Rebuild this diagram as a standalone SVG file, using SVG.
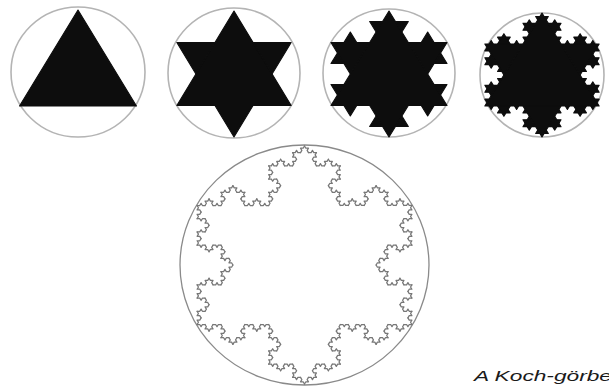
<svg xmlns="http://www.w3.org/2000/svg" xmlns:xlink="http://www.w3.org/1999/xlink" width="609" height="387" viewBox="0 0 609 387">
<style>
 .ring{fill:none;stroke:#b4b4b4;stroke-width:1.6}
 .bigring{fill:none;stroke:#8a8a8a;stroke-width:1.3}
 .solid{fill:#0d0d0d;stroke:#0d0d0d;stroke-width:1.1;stroke-linejoin:round;vector-effect:non-scaling-stroke}
 .curve{fill:none;stroke:#777777;stroke-width:1.25;stroke-linejoin:round;stroke-linecap:round;vector-effect:non-scaling-stroke}
 .caption{font-family:"Liberation Sans",Arial,sans-serif;font-style:italic;font-size:15px;fill:#1a1a1a}
</style>
<defs>
 <polygon id="t" class="solid" points="0.333333,0 0.5,-0.288675 0.666667,0"/>
 <polygon id="tri" class="solid" points="0,-1 0.866025,0.5 -0.866025,0.5"/>
 <g id="f2">
  <use href="#t"/>
  <use href="#t" transform="scale(0.333333)"/>
  <use href="#t" transform="translate(0.333333,0) rotate(-60) scale(0.333333)"/>
  <use href="#t" transform="translate(0.5,-0.288675) rotate(60) scale(0.333333)"/>
  <use href="#t" transform="translate(0.666667,0) scale(0.333333)"/>
 </g>
 <g id="f3">
  <use href="#t"/>
  <use href="#f2" transform="scale(0.333333)"/>
  <use href="#f2" transform="translate(0.333333,0) rotate(-60) scale(0.333333)"/>
  <use href="#f2" transform="translate(0.5,-0.288675) rotate(60) scale(0.333333)"/>
  <use href="#f2" transform="translate(0.666667,0) scale(0.333333)"/>
 </g>
 <g id="s1">
  <use href="#tri"/>
  <use href="#t" transform="translate(0,-1) rotate(60) scale(1.732051)"/>
  <use href="#t" transform="translate(0.866025,0.5) rotate(180) scale(1.732051)"/>
  <use href="#t" transform="translate(-0.866025,0.5) rotate(-60) scale(1.732051)"/>
 </g>
 <g id="s2">
  <use href="#tri"/>
  <use href="#f2" transform="translate(0,-1) rotate(60) scale(1.732051)"/>
  <use href="#f2" transform="translate(0.866025,0.5) rotate(180) scale(1.732051)"/>
  <use href="#f2" transform="translate(-0.866025,0.5) rotate(-60) scale(1.732051)"/>
 </g>
 <g id="s3">
  <use href="#tri"/>
  <use href="#f3" transform="translate(0,-1) rotate(60) scale(1.732051)"/>
  <use href="#f3" transform="translate(0.866025,0.5) rotate(180) scale(1.732051)"/>
  <use href="#f3" transform="translate(-0.866025,0.5) rotate(-60) scale(1.732051)"/>
 </g>
 <polyline id="k1" class="curve" points="0,0 0.333333,0 0.5,-0.288675 0.666667,0 1,0"/>
 <g id="k2">
  <use href="#k1" transform="scale(0.333333)"/>
  <use href="#k1" transform="translate(0.333333,0) rotate(-60) scale(0.333333)"/>
  <use href="#k1" transform="translate(0.5,-0.288675) rotate(60) scale(0.333333)"/>
  <use href="#k1" transform="translate(0.666667,0) scale(0.333333)"/>
 </g>
 <g id="k3">
  <use href="#k2" transform="scale(0.333333)"/>
  <use href="#k2" transform="translate(0.333333,0) rotate(-60) scale(0.333333)"/>
  <use href="#k2" transform="translate(0.5,-0.288675) rotate(60) scale(0.333333)"/>
  <use href="#k2" transform="translate(0.666667,0) scale(0.333333)"/>
 </g>
 <g id="k4">
  <use href="#k3" transform="scale(0.333333)"/>
  <use href="#k3" transform="translate(0.333333,0) rotate(-60) scale(0.333333)"/>
  <use href="#k3" transform="translate(0.5,-0.288675) rotate(60) scale(0.333333)"/>
  <use href="#k3" transform="translate(0.666667,0) scale(0.333333)"/>
 </g>
 <g id="o4">
  <use href="#k4" transform="translate(0,-1) rotate(60) scale(1.732051)"/>
  <use href="#k4" transform="translate(0.866025,0.5) rotate(180) scale(1.732051)"/>
  <use href="#k4" transform="translate(-0.866025,0.5) rotate(-60) scale(1.732051)"/>
 </g>
</defs>
<rect width="609" height="387" fill="#ffffff"/>
<g id="step0" transform="translate(78,72)">
 <ellipse class="ring" rx="67" ry="65"/>
 <use href="#tri" transform="translate(0,2) scale(67.5,64)"/>
</g>
<g id="step1" transform="translate(234,73)">
 <ellipse class="ring" rx="66" ry="65"/>
 <use href="#s1" transform="translate(0,1) scale(66,63)"/>
</g>
<g id="step2" transform="translate(389,73)">
 <ellipse class="ring" rx="66" ry="64"/>
 <use href="#s2" transform="translate(0,1) scale(67,63)"/>
</g>
<g id="step3" transform="translate(542,75)">
 <ellipse class="ring" rx="62" ry="62"/>
 <use href="#s3" transform="scale(66,62)"/>
</g>
<g id="curve" transform="translate(304.5,265)">
 <ellipse class="bigring" rx="124.5" ry="120"/>
 <use href="#o4" transform="scale(124,119)"/>
</g>
<text id="caption" class="caption" x="474" y="381" textLength="138" lengthAdjust="spacingAndGlyphs">A Koch-görbe</text>
</svg>
